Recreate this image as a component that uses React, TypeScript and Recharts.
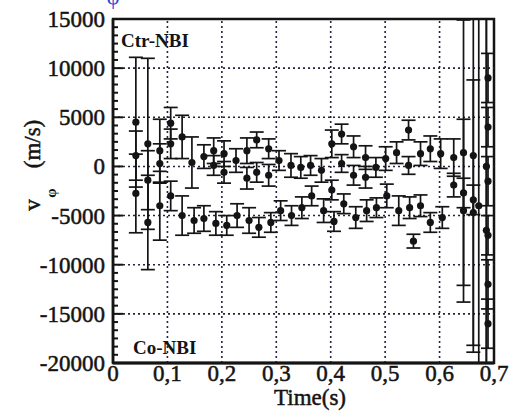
import React from 'react';
import {
  ScatterChart,
  Scatter,
  XAxis,
  YAxis,
  ErrorBar,
  ReferenceLine,
  ReferenceArea,
} from 'recharts';

// ---- Axis ticks ----
const xTicks = [0, 0.1, 0.2, 0.3, 0.4, 0.5, 0.6, 0.7];
const xTickLabels = ['0', '0,1', '0,2', '0,3', '0,4', '0,5', '0,6', '0,7'];
const yMajorTicks = [-20000, -15000, -10000, -5000, 0, 5000, 10000, 15000];
const xGrid = [0.1, 0.2, 0.3, 0.4, 0.5, 0.6];
const yGrid = [-15000, -10000, -5000, 0, 5000, 10000];
const minorPerMajor = 6;

// ---- Ctr-NBI (upper branch) ----
const ctrT = [0.042, 0.064, 0.086, 0.106, 0.127, 0.145, 0.167, 0.185, 0.204, 0.226, 0.246, 0.264, 0.286, 0.305, 0.327, 0.345, 0.363, 0.383, 0.402, 0.42, 0.442, 0.464, 0.483, 0.501, 0.521, 0.543, 0.565, 0.583, 0.602, 0.626, 0.644, 0.662, 0.686];
const ctrV = [4500, 2300, 1600, 4400, 3000, 400, 1000, 1600, 1300, 600, 1600, 2700, 1800, 600, 100, -100, 100, -400, 2300, 3300, 2000, 900, -100, 800, 1400, 3700, 1300, 1800, 1300, 900, 1400, 1100, 0];
const ctrE = [6600, 8700, 3200, 1600, 2200, 2600, 1200, 1300, 1300, 1200, 1300, 800, 1000, 1000, 1200, 1100, 1000, 1200, 1400, 1000, 1100, 1200, 1000, 1200, 1100, 1000, 1200, 1300, 1500, 1900, 13500, 20000, 25000];

// ---- intermediate points ----
const midT = [0.042, 0.064, 0.086, 0.106, 0.185, 0.204, 0.246, 0.264, 0.286, 0.402, 0.42, 0.442, 0.464, 0.543, 0.626, 0.644, 0.662];
const midV = [1100, -1400, 300, 2300, 100, -600, -1200, -600, -900, -2400, 300, -900, -1100, 100, -1900, -2700, -3400];
const midE = [2500, 3000, 2000, 1500, 1000, 1100, 1100, 1000, 1100, 1000, 900, 1000, 1100, 900, 1200, 1500, 1500];

// ---- Co-NBI (lower branch) ----
const coT = [0.042, 0.064, 0.086, 0.106, 0.127, 0.149, 0.167, 0.189, 0.209, 0.228, 0.25, 0.268, 0.29, 0.308, 0.328, 0.347, 0.365, 0.387, 0.406, 0.424, 0.446, 0.466, 0.484, 0.503, 0.525, 0.545, 0.552, 0.565, 0.583, 0.605, 0.644, 0.662, 0.672, 0.686];
const coV = [-2750, -5700, -4000, -3000, -5000, -5500, -5300, -5800, -6000, -5000, -5500, -6200, -5700, -4500, -5000, -4200, -3000, -4500, -5600, -3800, -5200, -4500, -4200, -3000, -4500, -4200, -7600, -4000, -5700, -5200, -4500, -4700, -4000, -6500];
const coE = [4000, 4800, 3500, 1500, 2000, 1300, 1300, 1200, 1000, 1200, 1300, 1000, 1000, 1000, 1000, 1100, 1000, 1200, 1000, 1000, 1100, 1100, 1000, 1200, 1500, 1100, 700, 1100, 1000, 1100, 9300, 13500, 30000, 30000];

// ---- last time slice (very noisy) ----
const edgeT = [0.689, 0.689, 0.689, 0.689, 0.689, 0.689];
const edgeV = [9000, 4000, -1500, -7000, -12000, -16000];
const edgeE = [2500, 2000, 2500, 2000, 2500, 2500];

const build = (t: number[], v: number[], e: number[]) =>
  t.map((tt, i) => ({ t: tt, v: v[i], err: e[i] }));

const ctrData = build(ctrT, ctrV, ctrE);
const midData = build(midT, midV, midE);
const coData = build(coT, coV, coE);
const edgeData = build(edgeT, edgeV, edgeE);

const yAllTicks: number[] = [];
for (let i = 0; i < yMajorTicks.length - 1; i++) {
  const step = (yMajorTicks[i + 1] - yMajorTicks[i]) / minorPerMajor;
  for (let k = 0; k < minorPerMajor; k++) yAllTicks.push(yMajorTicks[i] + k * step);
}
yAllTicks.push(yMajorTicks[yMajorTicks.length - 1]);

const FONT = '"Liberation Serif", "Times New Roman", serif';
const INK = '#141414';

// plot area in svg coordinates (derived from chart margins / axis sizes)
const CHART_W = 519;
const CHART_H = 404;
const M = { top: 11, right: 33, bottom: 0, left: 0 };
const Y_AXIS_W = 105;
const X_AXIS_H = 49;
const PLOT = {
  x: M.left + Y_AXIS_W,
  y: M.top,
  w: CHART_W - M.left - M.right - Y_AXIS_W,
  h: CHART_H - M.top - M.bottom - X_AXIS_H,
};

const heavy = { stroke: INK, strokeWidth: 0.5 } as const;

const YTick = (props: any) => {
  const { x, y, payload } = props;
  const v = payload.value;
  const major = yMajorTicks.some((m) => Math.abs(m - v) < 1);
  return (
    <g>
      <line x1={x} x2={x + (major ? 10 : 5)} y1={y} y2={y} stroke={INK} strokeWidth={2} />
      {major && (
        <text x={x - 8} y={y} dy="0.35em" textAnchor="end" fontFamily={FONT} fontSize={23} fill={INK} {...heavy}>
          {String(Math.round(v))}
        </text>
      )}
    </g>
  );
};

const XTick = (props: any) => {
  const { x, y, payload } = props;
  const idx = xTicks.findIndex((t) => Math.abs(t - payload.value) < 1e-6);
  return (
    <text x={x} y={y + 18} textAnchor="middle" fontFamily={FONT} fontSize={23} fill={INK} {...heavy}>
      {idx >= 0 ? xTickLabels[idx] : ''}
    </text>
  );
};

const Annotations = () => (
  <g fontFamily={FONT} fill={INK}>
    <defs>
      <clipPath id="plotClipArea" clipPathUnits="userSpaceOnUse">
        <rect x={PLOT.x} y={PLOT.y} width={PLOT.w} height={PLOT.h} />
      </clipPath>
    </defs>
    <text x={113} y={39} fontSize={19} fontWeight="bold">Ctr-NBI</text>
    <text x={125} y={346} fontSize={19} fontWeight="bold">Co-NBI</text>
    <text x={32} y={136} transform="rotate(-90 32 136)" textAnchor="middle" fontSize={23} {...heavy}>(m/s)</text>
    <text x={32} y={197} transform="rotate(-90 32 197)" textAnchor="middle" fontSize={23} {...heavy}>v</text>
    <text x={48} y={185} transform="rotate(-90 48 185)" textAnchor="middle" fontSize={15} fontWeight="bold">φ</text>
    <text x={302} y={397} textAnchor="middle" fontSize={23} {...heavy}>Time(s)</text>
  </g>
);

const Dot = (props: any) => <circle cx={props.cx} cy={props.cy} r={3.6} fill={INK} />;

const series = [ctrData, midData, coData, edgeData];

export default function App() {
  return (
    <div>
      <style>{`.recharts-errorBars, .recharts-errorBar, .recharts-scatter-symbol { clip-path: url(#plotClipArea); }`}</style>
      <svg width={527} height={12} style={{ position: 'absolute', left: 0, top: 0 }}>
        <text x={113} y={4} textAnchor="middle" fontFamily={FONT} fontSize={22} fill="#2b3fd6">φ</text>
      </svg>
      <ScatterChart width={CHART_W} height={CHART_H} margin={M}>
        <XAxis
          type="number"
          dataKey="t"
          domain={[0, 0.7]}
          ticks={xTicks}
          interval={0}
          allowDataOverflow
          tickSize={0}
          tickMargin={0}
          tick={<XTick />}
          height={X_AXIS_H}
          axisLine={{ stroke: INK, strokeWidth: 3 }}
          tickLine={false}
        />
        <YAxis
          type="number"
          dataKey="v"
          domain={[-20000, 15000]}
          ticks={yAllTicks}
          interval={0}
          allowDataOverflow
          tickSize={0}
          tickMargin={0}
          tick={<YTick />}
          width={Y_AXIS_W}
          axisLine={{ stroke: INK, strokeWidth: 2.5 }}
          tickLine={false}
          label={<Annotations />}
        />
        {yGrid.map((g) => (
          <ReferenceLine key={'y' + g} y={g} stroke="#24243e" strokeWidth={1.6} strokeDasharray="2 3" />
        ))}
        {xGrid.map((g) => (
          <ReferenceLine key={'x' + g} x={g} stroke="#24243e" strokeWidth={1.6} strokeDasharray="2 3" />
        ))}
        <ReferenceArea x1={0} x2={0.7} y1={-20000} y2={15000} fill="none" stroke={INK} strokeWidth={2.5} fillOpacity={0} />
        {series.map((d, i) => (
          <Scatter key={i} data={d} shape={<Dot />} isAnimationActive={false}>
            <ErrorBar dataKey="err" direction="y" width={7} stroke={INK} strokeWidth={1.7} isAnimationActive={false} />
          </Scatter>
        ))}
      </ScatterChart>
    </div>
  );
}
